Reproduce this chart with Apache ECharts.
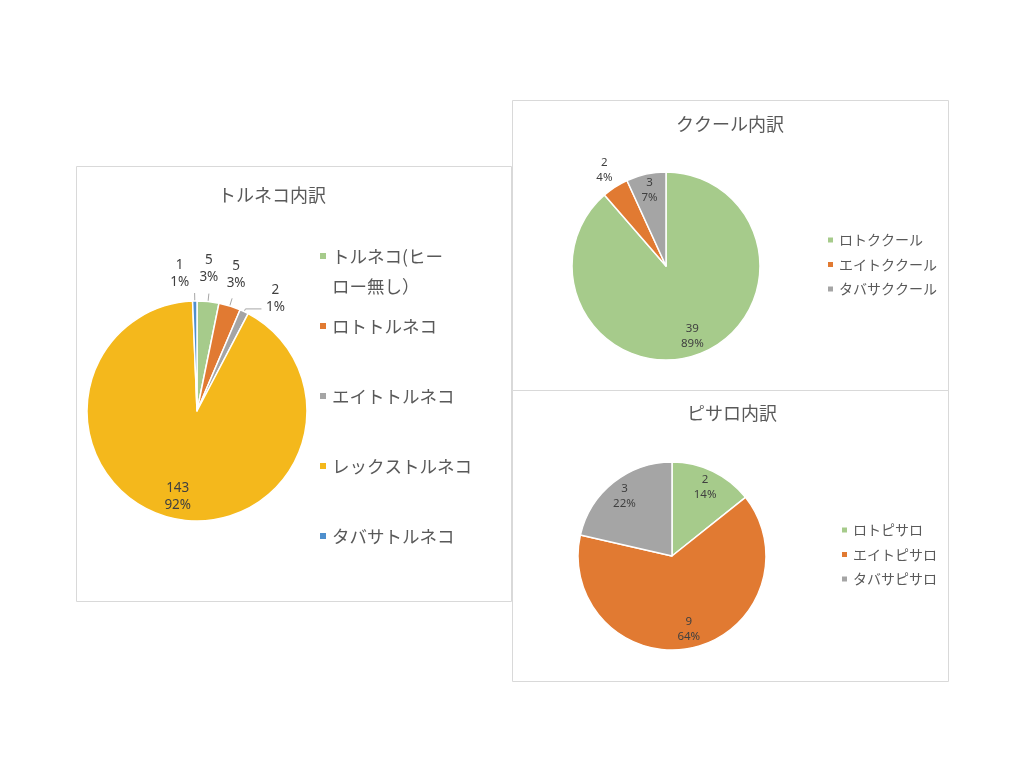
<!DOCTYPE html>
<html><head><meta charset="utf-8">
<script src="https://cdn.jsdelivr.net/npm/echarts@6/dist/echarts.min.js"></script>
<style>html,body{margin:0;padding:0;background:#fff}#c{width:1024px;height:768px}</style>
</head><body><div id="c"></div>
<script>
// ---- data ----
const torunekoNames = ['トルネコ(ヒーロー無し）', 'ロトトルネコ', 'エイトトルネコ', 'レックストルネコ', 'タバサトルネコ'];
const torunekoValues = [5, 5, 2, 143, 1];
const kukuruNames = ['ロトククール', 'エイトククール', 'タバサククール'];
const kukuruValues = [39, 2, 3];
const pisaroNames = ['ロトピサロ', 'エイトピサロ', 'タバサピサロ'];
const pisaroValues = [2, 9, 3];
const titles = ['トルネコ内訳', 'ククール内訳', 'ピサロ内訳'];

// ---- style ----
const colors5 = ['#A6CB8B', '#E17A32', '#A5A5A5', '#F4B81C', '#4E8FCD'];
const colors3 = ['#A6CB8B', '#E17A32', '#A5A5A5'];
const JP = "'Noto Sans CJK JP', 'Noto Sans', sans-serif";
const NUM = "'Noto Sans', 'Noto Sans CJK JP', sans-serif";
const TXT = '#595959';
const LBL = '#404040';

function midAngles(vals) {
  const t = vals.reduce((a, b) => a + b, 0);
  let acc = 0;
  return vals.map(v => { const m = (acc + v / 2) / t * 2 * Math.PI; acc += v; return m; });
}
// shift an inside label from r/2 to k*r along its mid angle
function radialShift(vals, r, kList) {
  const mids = midAngles(vals);
  return mids.map((m, i) => {
    const d = (kList[i] - 0.5) * r;
    return { dx: d * Math.sin(m), dy: -d * Math.cos(m) };
  });
}

const R1 = 110, R2 = 94;
const shiftTor = radialShift(torunekoValues, R1, [0.77, 0.77, 0.77, 0.77, 0.77]);
const shiftKuk = radialShift(kukuruValues, R2, [0.77, 1.18, 0.79]);
const shiftPis = radialShift(pisaroValues, R2, [0.78, 0.77, 0.78]);

function fmt(p) { return p.value + '\n' + p.percent + '%'; }

const chart = echarts.init(document.getElementById('c'), null, { renderer: 'canvas' });

const leftLegendY = [256, 326, 396, 466, 536];
const legends = torunekoNames.map((n, i) => {
  const base = {
    data: [n], orient: 'vertical', left: 318, padding: 0, itemGap: 0,
    itemWidth: 8, itemHeight: 8, icon: 'rect', selectedMode: false,
    textStyle: { fontSize: 17.5, color: TXT, fontFamily: JP, lineHeight: 20 }
  };
  if (i === 0) {
    // blank first line keeps the icon level with the first text line
    base.formatter = () => ' \nトルネコ(ヒー\nロー無し）';
    base.textStyle = { fontSize: 17.5, color: TXT, fontFamily: JP, lineHeight: 30 };
    base.top = leftLegendY[i] - 45;
  } else {
    base.top = leftLegendY[i] - 10;
  }
  return base;
});
legends.push({
  data: kukuruNames, orient: 'vertical', left: 826, top: 232, padding: 0, itemGap: 8.5,
  itemWidth: 7, itemHeight: 7, icon: 'rect', selectedMode: false,
  textStyle: { fontSize: 14, color: TXT, fontFamily: JP, lineHeight: 16 }
});
legends.push({
  data: pisaroNames, orient: 'vertical', left: 840, top: 522, padding: 0, itemGap: 8.5,
  itemWidth: 7, itemHeight: 7, icon: 'rect', selectedMode: false,
  textStyle: { fontSize: 14, color: TXT, fontFamily: JP, lineHeight: 16 }
});

const boxStyle = { fill: 'none', stroke: '#D9D9D9', lineWidth: 1 };

const option = {
  backgroundColor: '#fff',
  animation: false,
  graphic: [
    { type: 'rect', shape: { x: 76.5, y: 166.5, width: 435, height: 435 }, style: boxStyle, z: -1 },
    { type: 'rect', shape: { x: 512.5, y: 100.5, width: 436, height: 290 }, style: boxStyle, z: -1 },
    { type: 'rect', shape: { x: 512.5, y: 390.5, width: 436, height: 291 }, style: boxStyle, z: -1 }
  ],
  title: [
    { text: titles[0], left: 272, top: 186, textAlign: 'center', padding: 0,
      textStyle: { fontSize: 18, fontWeight: 'normal', color: TXT, fontFamily: JP } },
    { text: titles[1], left: 730, top: 115, textAlign: 'center', padding: 0,
      textStyle: { fontSize: 18, fontWeight: 'normal', color: TXT, fontFamily: JP } },
    { text: titles[2], left: 732, top: 404, textAlign: 'center', padding: 0,
      textStyle: { fontSize: 18, fontWeight: 'normal', color: TXT, fontFamily: JP } }
  ],
  legend: legends,
  series: [
    {
      type: 'pie', center: [197, 411], radius: R1, startAngle: 90, clockwise: true,
      avoidLabelOverlap: false, percentPrecision: 0, silent: true,
      emphasis: { disabled: true },
      itemStyle: { borderColor: '#fff', borderWidth: 1.5 },
      label: { show: true, formatter: fmt, fontSize: 13.5, lineHeight: 17, color: LBL, fontFamily: NUM, distanceToLabelLine: 0 },
      labelLine: { show: true, length: 8, length2: 0, lineStyle: { color: '#A6A6A6', width: 1 } },
      data: torunekoNames.map((n, i) => {
        const d = { name: n, value: torunekoValues[i], itemStyle: { color: colors5[i] } };
        if (i === 3) {
          d.label = { position: 'inside' };
        } else if (i === 2) {
          d.label = { position: 'outside', distanceToLabelLine: 0 };
          d.labelLine = { length: 3, length2: 16 };
        } else {
          d.label = { position: 'outside' };
        }
        return d;
      }),
      labelLayout: function (p) {
        const i = p.dataIndex;
        if (i === 3) return shiftTor[i];
        if (i === 2) return { align: 'center', verticalAlign: 'middle', dx: 14, dy: -10 };
        if (i === 4) return { align: 'center', verticalAlign: 'bottom', dx: -15, dy: -2 };
        if (i === 1) return { align: 'center', verticalAlign: 'bottom', dx: 4, dy: -7 };
        return { align: 'center', verticalAlign: 'bottom', dx: 0, dy: -8 };
      }
    },
    {
      type: 'pie', center: [666, 266], radius: R2, startAngle: 90, clockwise: true,
      avoidLabelOverlap: false, percentPrecision: 0, silent: true,
      emphasis: { disabled: true },
      itemStyle: { borderColor: '#fff', borderWidth: 1.5 },
      label: { show: true, position: 'inside', formatter: fmt, fontSize: 11.5, lineHeight: 15, color: LBL, fontFamily: NUM },
      labelLine: { show: false },
      data: kukuruNames.map((n, i) => ({ name: n, value: kukuruValues[i], itemStyle: { color: colors3[i] } })),
      labelLayout: function (p) { return shiftKuk[p.dataIndex]; }
    },
    {
      type: 'pie', center: [672, 556], radius: R2, startAngle: 90, clockwise: true,
      avoidLabelOverlap: false, percentPrecision: 0, silent: true,
      emphasis: { disabled: true },
      itemStyle: { borderColor: '#fff', borderWidth: 1.5 },
      label: { show: true, position: 'inside', formatter: fmt, fontSize: 11.5, lineHeight: 15, color: LBL, fontFamily: NUM },
      labelLine: { show: false },
      data: pisaroNames.map((n, i) => ({ name: n, value: pisaroValues[i], itemStyle: { color: colors3[i] } })),
      labelLayout: function (p) { return shiftPis[p.dataIndex]; }
    }
  ]
};
chart.setOption(option);
</script>
</body></html>
